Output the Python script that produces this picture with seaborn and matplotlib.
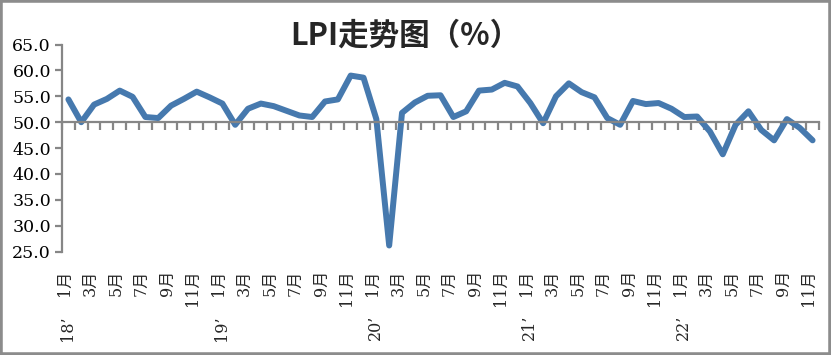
import numpy as np
import matplotlib
matplotlib.use("Agg")
import matplotlib.pyplot as plt
import matplotlib.transforms as mtransforms
from matplotlib.patches import Rectangle
import pandas as pd
import seaborn as sns

# LPI monthly values, 2018-01 .. 2022-11
lpi_2018 = [54.4, 50.0, 53.4, 54.5, 56.1, 54.9, 51.0, 50.8, 53.2, 54.5, 55.9, 54.8]
lpi_2019 = [53.6, 49.5, 52.6, 53.6, 53.1, 52.2, 51.3, 51.0, 54.0, 54.4, 59.0, 58.6]
lpi_2020 = [50.6, 26.2, 51.8, 53.8, 55.1, 55.2, 51.0, 52.1, 56.1, 56.3, 57.6, 56.9]
lpi_2021 = [53.7, 49.8, 55.0, 57.5, 55.8, 54.8, 50.8, 49.5, 54.1, 53.5, 53.7, 52.6]
lpi_2022 = [51.0, 51.1, 48.2, 43.8, 49.5, 52.1, 48.5, 46.5, 50.6, 48.9, 46.5]
years = ["18’", "19’", "20’", "21’", "22’"]
month_labels = ["1月", "3月", "5月", "7月", "9月", "11月"]

values = lpi_2018 + lpi_2019 + lpi_2020 + lpi_2021 + lpi_2022
df = pd.DataFrame({"idx": np.arange(len(values)), "LPI": values})

sns.set_style("white")
plt.rcParams["font.family"] = ["DejaVu Serif", "Noto Sans CJK SC"]

fig = plt.figure(figsize=(8.31, 3.55), dpi=100)
ax = fig.add_axes([62/831, 103.3/355, (819-62)/831, 207.2/355])

sns.lineplot(data=df, x="idx", y="LPI", ax=ax, color="#4679AE", linewidth=4.3,
             solid_capstyle="round", solid_joinstyle="round")

grey = "#868686"
ax.set_xlim(-0.5, len(values) - 0.5)
ax.set_ylim(25, 65)
ax.set_yticks(np.arange(25, 66, 5))
ax.set_yticklabels([f"{v:.1f}" for v in np.arange(25, 66, 5)], fontsize=12.5)
ax.set_xlabel("")
ax.set_ylabel("")

for s in ["top", "right"]:
    ax.spines[s].set_visible(False)
ax.spines["left"].set_color(grey)
ax.spines["left"].set_linewidth(1.6)
ax.spines["bottom"].set_position(("data", 50))
ax.spines["bottom"].set_color(grey)
ax.spines["bottom"].set_linewidth(1.6)

ax.set_xticks(np.arange(-0.5, len(values), 1))
ax.set_xticklabels([])
ax.tick_params(axis="x", bottom=True, direction="out", length=6, width=1.6,
               color=grey)
ax.tick_params(axis="y", left=True, direction="out", length=5, width=1.6,
               color=grey, labelcolor="black", pad=3)

# month and year labels along the bottom
trans = mtransforms.blended_transform_factory(ax.transData, ax.transAxes)
mtrans = mtransforms.offset_copy(trans, fig=fig, x=-4, y=0, units="dots")
ytrans = mtransforms.offset_copy(trans, fig=fig, x=-1, y=0, units="dots")
for i in range(0, len(values), 2):
    lab = month_labels[(i % 12) // 2]
    ax.text(i, -0.088, lab, transform=mtrans, rotation=90, ha="center",
            va="top", fontsize=11.5)
for k, yr in enumerate(years):
    ax.text(k * 12, -0.306, yr, transform=ytrans, rotation=90, ha="center",
            va="top", fontsize=11.5)

fig.text(405/831, 1 - 36/355, "LPI走势图（%）", ha="center", va="center",
         fontsize=22, fontweight="bold",
         family=["Noto Sans CJK SC", "DejaVu Sans"])

fig.patches.append(Rectangle((0, 0), 1, 1, transform=fig.transFigure,
                             fill=False, edgecolor="#8c8c8c", linewidth=4))

fig.savefig("out.png", dpi=100)
